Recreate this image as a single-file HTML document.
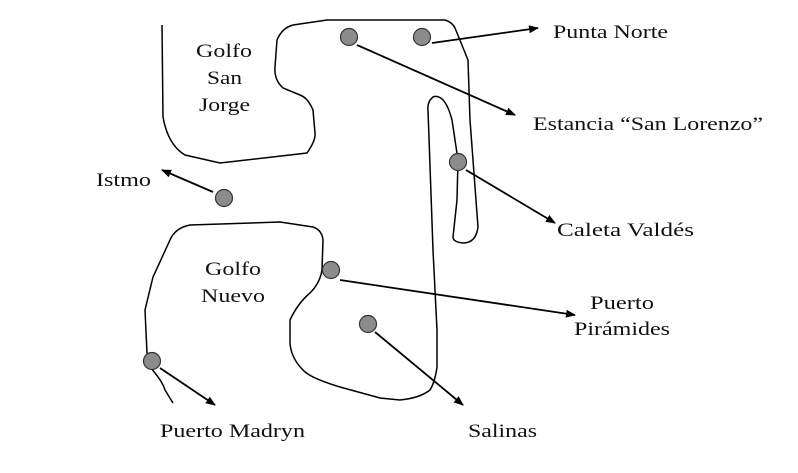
<!DOCTYPE html>
<html><head><style>body{margin:0;background:#fff}svg text{font-family:"Liberation Serif",serif;font-size:19px;fill:#111}</style></head><body>
<svg width="798" height="468" viewBox="0 0 798 468" xmlns="http://www.w3.org/2000/svg">
<defs><marker id="a" markerWidth="10" markerHeight="8" refX="9" refY="4" orient="auto" markerUnits="userSpaceOnUse"><path d="M0,0 L10,4 L0,8 z" fill="#000"/></marker></defs>
<g fill="none" stroke="#000" stroke-width="1.5">
<path d="M162,25 L163,117 Q168,145 185,155 L220,163 L307,153 Q316,140 315,133 L313,110 Q308,98 300,95 L283,88 Q274,80 275,67 L277,40 Q282,28 293,25 L327,20 L445,20 Q452,22 455,28 L468,60 L470,120 L478,227 Q476,243 463,243 Q453,242 453,237 L457,200 L458,160 L452,120 Q448,105 443,100 Q438,95 433,97 Q427,102 428,110 L433,250 L437,330 L437,367 Q435,382 430,390 Q420,398 400,400 L380,398 L340,387 Q310,378 303,370 Q291,358 290,343 L290,320 Q298,303 310,293 Q320,283 322,270 L323,240 Q322,230 313,227 L280,222 L190,225 Q175,228 170,240 L153,277 L145,310 L147,353 Q150,368 155,373 Q163,383 165,390 L173,403"/>
</g>
<g stroke="#000" stroke-width="1.8" marker-end="url(#a)">
<line x1="432" y1="43" x2="538" y2="28"/>
<line x1="357" y1="45" x2="515" y2="115"/>
<line x1="466" y1="170" x2="555" y2="223"/>
<line x1="213" y1="192" x2="162" y2="170"/>
<line x1="340" y1="280" x2="575" y2="315"/>
<line x1="375" y1="332" x2="463" y2="405"/>
<line x1="160" y1="368" x2="215" y2="405"/>
</g>
<g fill="#8c8c8c" stroke="#333" stroke-width="1.2">
<circle cx="349" cy="37" r="8.5"/><circle cx="422" cy="37" r="8.5"/><circle cx="458" cy="162" r="8.5"/><circle cx="224" cy="198" r="8.5"/><circle cx="331" cy="270" r="8.5"/><circle cx="368" cy="324" r="8.5"/><circle cx="152" cy="361" r="8.5"/>
</g>
<g lengthAdjust="spacingAndGlyphs">
<text x="196" y="57" textLength="56" lengthAdjust="spacingAndGlyphs">Golfo</text>
<text x="207" y="84" textLength="35" lengthAdjust="spacingAndGlyphs">San</text>
<text x="199" y="111" textLength="51" lengthAdjust="spacingAndGlyphs">Jorge</text>
<text x="205" y="275" textLength="56" lengthAdjust="spacingAndGlyphs">Golfo</text>
<text x="201" y="302" textLength="64" lengthAdjust="spacingAndGlyphs">Nuevo</text>
<text x="590" y="309" textLength="64" lengthAdjust="spacingAndGlyphs">Puerto</text>
<text x="574" y="335" textLength="96" lengthAdjust="spacingAndGlyphs">Pirámides</text>
<text x="96" y="186" textLength="55" lengthAdjust="spacingAndGlyphs">Istmo</text>
<text x="553" y="38" textLength="115" lengthAdjust="spacingAndGlyphs">Punta Norte</text>
<text x="533" y="130" textLength="230" lengthAdjust="spacingAndGlyphs">Estancia “San Lorenzo”</text>
<text x="557" y="236" textLength="137" lengthAdjust="spacingAndGlyphs">Caleta Valdés</text>
<text x="160" y="437" textLength="145" lengthAdjust="spacingAndGlyphs">Puerto Madryn</text>
<text x="468" y="437" textLength="69" lengthAdjust="spacingAndGlyphs">Salinas</text>
</g>
</svg>
</body></html>
